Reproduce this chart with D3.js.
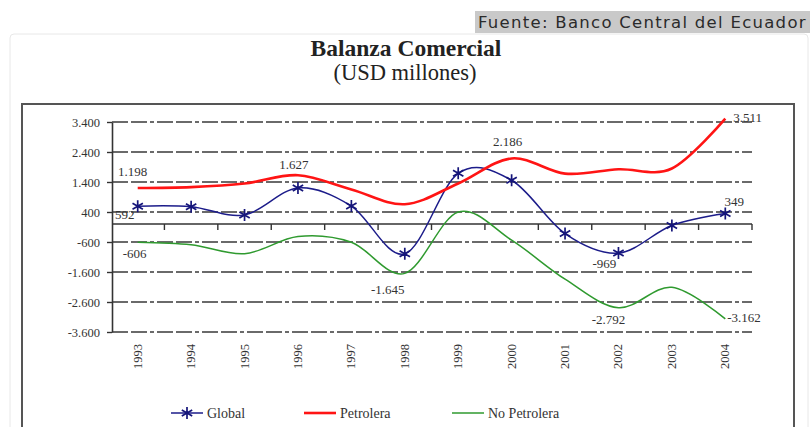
<!DOCTYPE html>
<html>
<head>
<meta charset="utf-8">
<script src="https://cdn.jsdelivr.net/npm/d3@7"></script>
<style>
  body { margin: 0; background: #fff; }
  svg { display: block; }
</style>
</head>
<body>
<svg id="chart" width="810" height="427"></svg>
<script>
// Balanza comercial del Ecuador, 1993-2004 (USD millones)
const years = ["1993", "1994", "1995", "1996", "1997", "1998", "1999", "2000", "2001", "2002", "2003", "2004"];
const globalValues = [592, 575, 300, 1200, 598, -995, 1690, 1458, -320, -969, -50, 349];
const petroleraValues = [1198, 1230, 1350, 1627, 1150, 660, 1350, 2186, 1680, 1823, 1850, 3511];
const noPetroleraValues = [-606, -690, -990, -420, -610, -1645, 400, -540, -1840, -2792, -2110, -3162];
const yTickValues = [3400, 2400, 1400, 400, -600, -1600, -2600, -3600];
const seriesNames = ["Global", "Petrolera", "No Petrolera"];

// Figures written beside the curves: series index, year index
const valueLabels = [
  { s: 1, i: 0 }, { s: 0, i: 0 }, { s: 1, i: 3 }, { s: 2, i: 0 },
  { s: 2, i: 5 }, { s: 1, i: 7 }, { s: 0, i: 9 }, { s: 2, i: 9 },
  { s: 1, i: 11 }, { s: 0, i: 11 }, { s: 2, i: 11 }
];
// offsets of each figure from its point
const labelOffsets = [
  [-5, -12, "middle"], [-13, 13, "middle"], [-4, -6, "middle"], [-3, 16, "middle"],
  [-17, 21, "middle"], [-4, -12, "middle"], [-14, 15, "middle"], [-10, 16, "middle"],
  [8, 3, "start"], [9, -8, "middle"], [2, 3, "start"]
];

const series = [globalValues, petroleraValues, noPetroleraValues];
const colors = ["#1c1c8a", "#ff1414", "#2f9a2f"];
const widths = [1.5, 2.6, 1.5];

const locale = d3.formatLocale({ decimal: ",", thousands: ".", grouping: [3], currency: ["$", ""], minus: "-" });
const fmt = locale.format(",d");

const svg = d3.select("#chart");
const serif = "'Liberation Serif', 'Times New Roman', serif";

// source banner
svg.append("rect").attr("x", 475).attr("y", 11).attr("width", 340).attr("height", 22).attr("fill", "#c9c9c9");
svg.append("text").attr("x", 478).attr("y", 28)
  .attr("font-family", "'DejaVu Sans', sans-serif").attr("font-size", 16.5)
  .attr("letter-spacing", 1.28).attr("fill", "#2b2b2b")
  .text("Fuente: Banco Central del Ecuador");

// outer panel and inner frame
svg.append("rect").attr("x", 10).attr("y", 34).attr("width", 798).attr("height", 420)
  .attr("rx", 4).attr("fill", "#fff").attr("stroke", "#e8e8e8").attr("stroke-width", 1);
svg.append("rect").attr("x", 22).attr("y", 104).attr("width", 772).attr("height", 340)
  .attr("fill", "#fff").attr("stroke", "#555").attr("stroke-width", 2);

// titles
svg.append("text").attr("x", 406).attr("y", 56).attr("text-anchor", "middle")
  .attr("font-family", serif).attr("font-size", 23.5).attr("font-weight", "bold").attr("fill", "#222")
  .text("Balanza Comercial");
svg.append("text").attr("x", 405).attr("y", 80).attr("text-anchor", "middle")
  .attr("font-family", serif).attr("font-size", 22.5).attr("fill", "#222")
  .text("(USD millones)");

// scales
const x = d3.scaleBand().domain(years).range([111, 752]);
const y = d3.scaleLinear().domain([-3600, 3400]).range([332, 122]);
const cx = d => x(d) + x.bandwidth() / 2;

// dashed gridlines
svg.append("g").selectAll("line").data(yTickValues).join("line")
  .attr("x1", 112).attr("x2", 752)
  .attr("y1", d => y(d)).attr("y2", d => y(d))
  .attr("stroke", "#3a3a3a").attr("stroke-width", 1.6)
  .attr("stroke-dasharray", "16,3,16,3,4,3");

// y axis
const yAxis = svg.append("g").attr("transform", "translate(112,0)")
  .call(d3.axisLeft(y).tickValues(yTickValues).tickFormat(fmt).tickSize(5).tickSizeOuter(0).tickPadding(7));
yAxis.select(".domain").attr("stroke", "#333").attr("stroke-width", 1.6);
yAxis.selectAll(".tick line").attr("stroke", "#333").attr("stroke-width", 1.4);
yAxis.selectAll("text").attr("font-family", serif).attr("font-size", 12.5).attr("fill", "#333");

// x axis at zero, ticks on band edges
const xAxis = svg.append("g").attr("transform", `translate(0,${y(0)})`);
xAxis.append("line").attr("x1", 112).attr("x2", 752).attr("stroke", "#333").attr("stroke-width", 1.6);
const edges = years.slice(1).map(d => x(d)).concat([x.range()[1]]);
xAxis.selectAll(".edge").data(edges).join("line").attr("class", "edge")
  .attr("x1", d => d).attr("x2", d => d).attr("y1", 0).attr("y2", 6)
  .attr("stroke", "#333").attr("stroke-width", 1.4);

// rotated year labels
svg.append("g").selectAll("text").data(years).join("text")
  .attr("transform", d => `translate(${cx(d) + 4},344) rotate(-90)`)
  .attr("text-anchor", "end")
  .attr("font-family", serif).attr("font-size", 12.5).attr("fill", "#333")
  .text(d => d);

// smoothed lines
const line = d3.line().x((v, i) => cx(years[i])).y(v => y(v)).curve(d3.curveCardinal.tension(0));
svg.append("g").selectAll("path").data(series).join("path")
  .attr("d", d => line(d))
  .attr("fill", "none")
  .attr("stroke", (d, i) => colors[i])
  .attr("stroke-width", (d, i) => widths[i])
  .attr("stroke-linejoin", "round");

// asterisk markers for the global series
const starPath = r => {
  const a = Math.PI / 3;
  let p = `M0,${-r}L0,${r}`;
  [a / 2, -a / 2].forEach(t => {
    const dx = r * Math.cos(t), dy = r * Math.sin(t);
    p += `M${-dx},${-dy}L${dx},${dy}`;
  });
  return p;
};
svg.append("g").selectAll("path").data(globalValues).join("path")
  .attr("transform", (v, i) => `translate(${cx(years[i])},${y(v)})`)
  .attr("d", starPath(6))
  .attr("stroke", "#15157a").attr("stroke-width", 1.7).attr("fill", "none");

// value figures
svg.append("g").selectAll("text").data(valueLabels).join("text")
  .attr("x", (d, k) => cx(years[d.i]) + labelOffsets[k][0])
  .attr("y", (d, k) => y(series[d.s][d.i]) + labelOffsets[k][1])
  .attr("text-anchor", (d, k) => labelOffsets[k][2])
  .attr("font-family", serif).attr("font-size", 13).attr("fill", "#333")
  .text(d => fmt(series[d.s][d.i]));

// legend
const legendX = [171, 304, 452];
const legend = svg.append("g").selectAll("g").data(seriesNames).join("g")
  .attr("transform", (d, i) => `translate(${legendX[i]},413)`);
legend.append("line").attr("x1", 0).attr("x2", 32)
  .attr("stroke", (d, i) => colors[i]).attr("stroke-width", (d, i) => widths[i]);
legend.filter((d, i) => i === 0).append("path")
  .attr("transform", "translate(16,0)").attr("d", starPath(6))
  .attr("stroke", "#15157a").attr("stroke-width", 1.7).attr("fill", "none");
legend.append("text").attr("x", 36).attr("y", 4.5)
  .attr("font-family", serif).attr("font-size", 14).attr("fill", "#333")
  .text(d => d);
</script>
</body>
</html>
